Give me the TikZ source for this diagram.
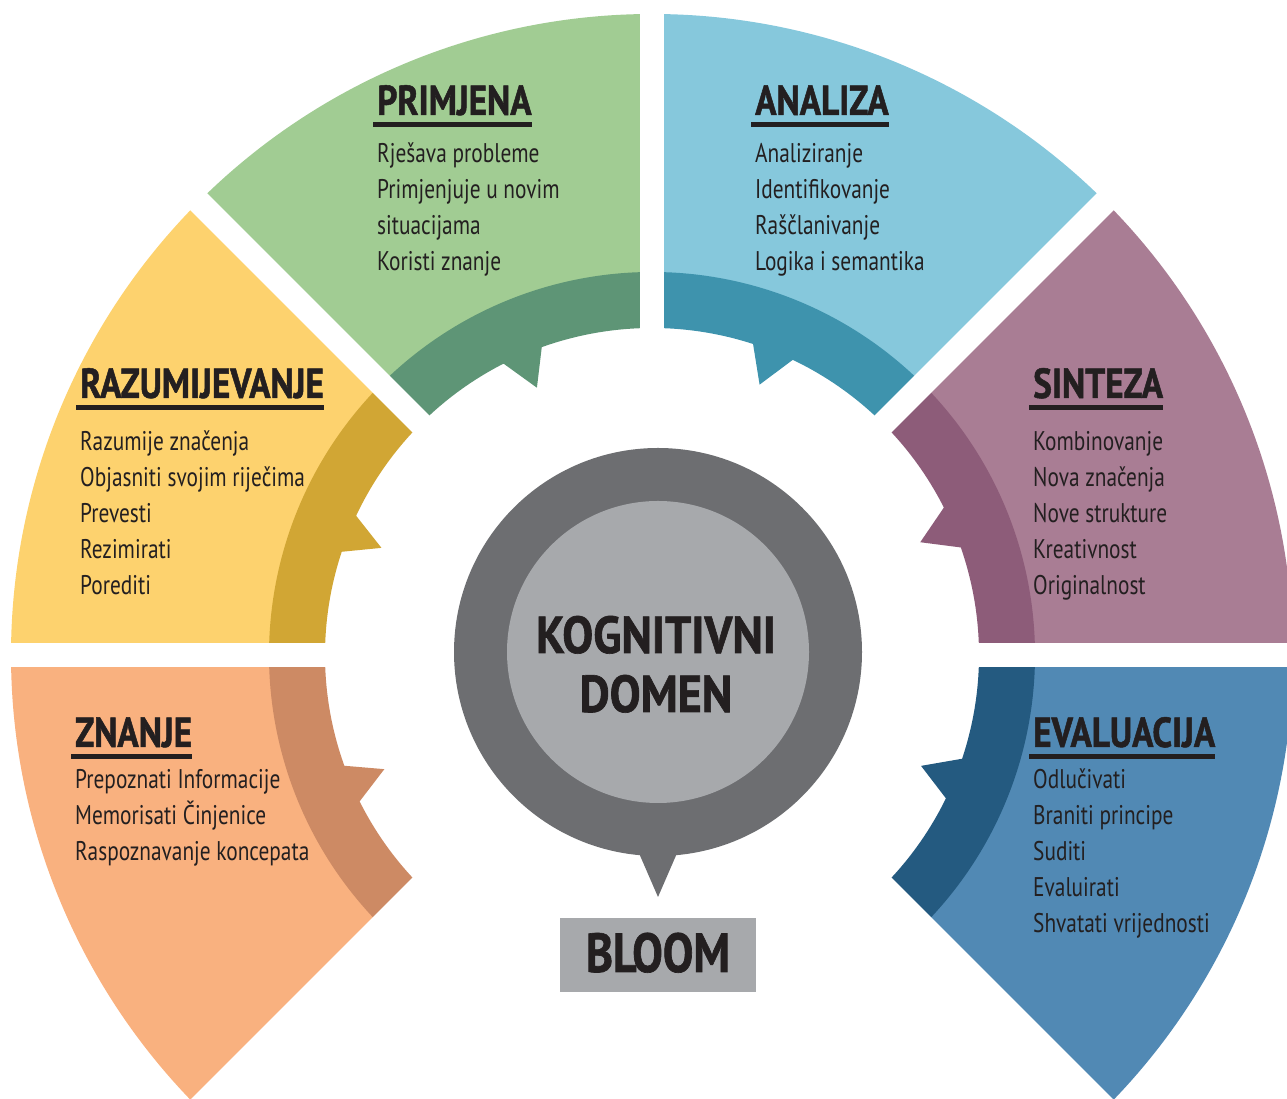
\documentclass[tikz,border=0pt]{standalone}
\usepackage{fontspec}
\setmainfont{PT Sans}[FakeStretch=0.79]
\newfontfamily\ttlfont{PT Sans Bold}[FakeStretch=0.84, FakeBold=1.2]
\newfontfamily\cenfont{PT Sans Bold}[FakeStretch=0.89, FakeBold=1.2]
\newfontfamily\bloomfont{PT Sans Bold}[FakeStretch=0.83, FakeBold=1.2]
\usetikzlibrary{calc}
\definecolor{ink}{HTML}{231F20}
\definecolor{primL}{HTML}{A1CC93}\definecolor{primD}{HTML}{5E9576}
\definecolor{analL}{HTML}{86C8DC}\definecolor{analD}{HTML}{3E93AD}
\definecolor{sintL}{HTML}{A97D94}\definecolor{sintD}{HTML}{8D5C79}
\definecolor{evalL}{HTML}{5189B4}\definecolor{evalD}{HTML}{245A80}
\definecolor{znanL}{HTML}{F9B17F}\definecolor{znanD}{HTML}{CD8A64}
\definecolor{razuL}{HTML}{FDD26E}\definecolor{razuD}{HTML}{D1A634}
\definecolor{cDark}{HTML}{6D6E71}\definecolor{cLight}{HTML}{A7A9AC}
% #1 start angle, #2 end angle, #3 light, #4 dark, #5 tooth high angle, #6 tip angle, #7 tooth low angle
\newcommand\bloomsector[7]{%
  \fill[#3] ($(O)+(#1:641pt)$) arc[start angle=#1, end angle=#2, radius=641pt]
    -- ($(O)+(#2:382pt)$) arc[start angle=#2, end angle=#1, radius=382pt] -- cycle;
  \fill[#4] ($(O)+(#1:383pt)$) arc[start angle=#1, end angle=#2, radius=383pt]
    -- ($(O)+(#2:327pt)$) arc[start angle=#2, end angle=#5, radius=327pt]
    -- ($(O)+(#6:291pt)$) -- ($(O)+(#7:327pt)$)
    arc[start angle=#7, end angle=#1, radius=327pt] -- cycle;
}
% #1 id, #2 x, #3 title baseline, #4 title, #5 first body baseline, #6 lines
\newcommand\bloomblock[6]{%
  \node[ttl] (#1-t) at (#2,#3) {#4};
  \draw[uline] ($(#1-t.base west)+(-4,-10)$) -- ($(#1-t.base east)+(0,-10)$);
  \foreach \ln [count=\i] in {#6} \node[body] (#1-\i) at (#2, #5-36*\i+36) {\ln};
}
\begin{document}
\begin{tikzpicture}[x=1pt,y=1pt,
  body/.style={anchor=base west, inner sep=0pt, text=ink, font=\fontsize{27}{36}\selectfont},
  ttl/.style={anchor=base west, inner sep=0pt, text=ink, font=\ttlfont\fontsize{42}{42}\selectfont},
  uline/.style={draw=ink, line width=5pt},
  gap/.style={draw=white, line width=24pt},
  center/.style={anchor=base, inner sep=0pt, text=ink, font=\cenfont\fontsize{52}{59}\selectfont}]
\useasboundingbox (0,0) rectangle (1287,1099);
\clip (0,0) rectangle (1287,1099);
\coordinate (O) at (652,444);
% sectors
\bloomsector{90}{135}{primL}{primD}{117}{113.3}{109.7}
\bloomsector{45}{90}{analL}{analD}{72}{68.3}{64.5}
\bloomsector{135}{180}{razuL}{razuD}{161.6}{158.4}{154.8}
\bloomsector{0}{45}{sintL}{sintD}{26.8}{22.8}{19.2}
\bloomsector{180}{225}{znanL}{znanD}{206.6}{203.1}{199.8}
\bloomsector{-45}{0}{evalL}{evalD}{-18.5}{-22.4}{-26.0}
% gaps
\foreach \a in {-45,0,45,90,135,180,225}
  \draw[gap] (O) -- ($(O)+(\a:720pt)$);
% centre
\coordinate (P) at (658,447);
\fill[cDark] (635,255) -- (658,202) -- (681,255) -- cycle;
\node[circle, fill=cDark, minimum size=408pt, inner sep=0pt] (outer) at (P) {};
\node[circle, fill=cLight, minimum size=302pt, inner sep=0pt] (inner) at (P) {};
\node[center] (kog) at (656,446) {KOGNITIVNI};
\node[center] (dom) at (656,387) {DOMEN};
\node[fill=cLight, minimum width=196pt, minimum height=74pt, inner sep=0pt] (bbox) at (658,144) {};
\node[anchor=base, inner sep=0pt, text=ink, font=\bloomfont\fontsize{55}{55}\selectfont] (bloom) at (658,127) {BLOOM};
% texts
\bloomblock{prim}{377}{984}{PRIMJENA}{936}{Rješava probleme, Primjenjuje u novim, situacijama, Koristi znanje}
\bloomblock{anal}{755}{984}{ANALIZA}{936}{Analiziranje, Identifikovanje, Raščlanivanje, Logika i semantika}
\bloomblock{razu}{80}{701}{RAZUMIJEVANJE}{648}{Razumije značenja, Objasniti svojim riječima, Prevesti, Rezimirati, Porediti}
\bloomblock{sint}{1033}{701}{SINTEZA}{648}{Kombinovanje, Nova značenja, Nove strukture, Kreativnost, Originalnost}
\bloomblock{znan}{75}{352}{ZNANJE}{310}{Prepoznati Informacije, Memorisati Činjenice, Raspoznavanje koncepata}
\bloomblock{eval}{1033}{352}{EVALUACIJA}{310}{Odlučivati, Braniti principe, Suditi, Evaluirati, Shvatati vrijednosti}
\end{tikzpicture}
\end{document}
